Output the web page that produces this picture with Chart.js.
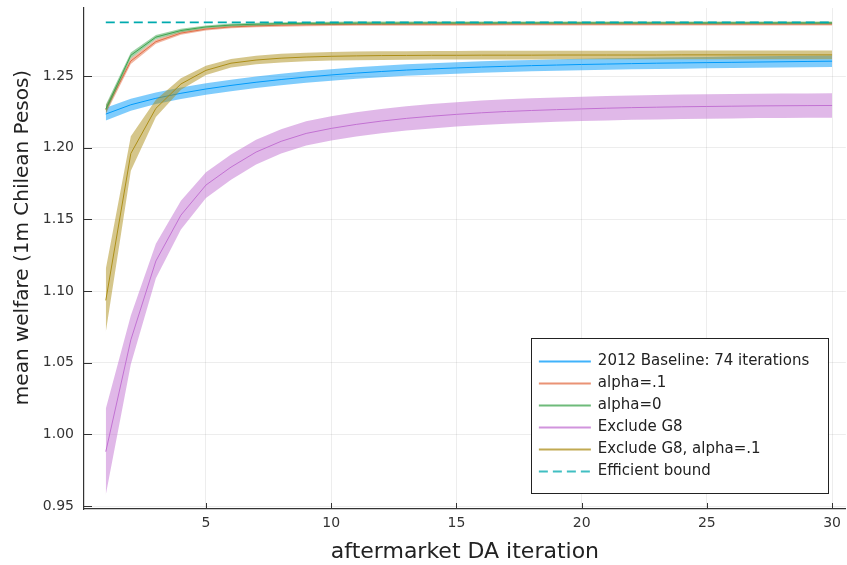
<!DOCTYPE html>
<html>
<head>
<meta charset="utf-8">
<script src="https://cdn.jsdelivr.net/npm/chart.js@4.4.0/dist/chart.umd.min.js"></script>
<style>
  html, body { margin: 0; padding: 0; background: #fff; }
  #wrap { width: 847px; height: 565px; }
</style>
</head>
<body>
<div id="wrap"><canvas id="chart" width="847" height="565"></canvas></div>
<script>
const iterations = [1,2,3,4,5,6,7,8,9,10,11,12,13,14,15,16,17,18,19,20,21,22,23,24,25,26,27,28,29,30];

const baseline = [1.2235,1.2300,1.2345,1.2380,1.2410,1.2435,1.2457,1.2476,1.2493,1.2508,1.2521,1.2532,1.2542,1.2550,1.2557,
                  1.2563,1.2568,1.2573,1.2577,1.2581,1.2584,1.2587,1.2590,1.2592,1.2594,1.2596,1.2598,1.2600,1.2602,1.2604];
const baselineErr = [0.0045,0.0042,0.0040,0.0040,0.0040,0.0040,0.0040,0.0040,0.0040,0.0040,0.0040,0.0040,0.0040,0.0040,0.0040,
                     0.0040,0.0040,0.0040,0.0040,0.0040,0.0040,0.0040,0.0040,0.0040,0.0040,0.0040,0.0040,0.0040,0.0040,0.0040];

const alpha1 = [1.2265,1.2605,1.2740,1.2800,1.2828,1.2843,1.2850,1.2855,1.2858,1.2860,1.2861,1.2861,1.2862,1.2862,1.2862,
                1.2862,1.2863,1.2863,1.2863,1.2863,1.2863,1.2863,1.2863,1.2863,1.2863,1.2863,1.2863,1.2863,1.2863,1.2863];
const alpha1Err = [0.0030,0.0020,0.0015,0.0012,0.0010,0.0010,0.0010,0.0010,0.0010,0.0010,0.0010,0.0010,0.0010,0.0010,0.0010,
                   0.0010,0.0010,0.0010,0.0010,0.0010,0.0010,0.0010,0.0010,0.0010,0.0010,0.0010,0.0010,0.0010,0.0010,0.0010];

const alpha0 = [1.2270,1.2645,1.2772,1.2818,1.2843,1.2856,1.2862,1.2866,1.2868,1.2869,1.2870,1.2870,1.2870,1.2871,1.2871,
                1.2871,1.2871,1.2871,1.2871,1.2871,1.2871,1.2871,1.2871,1.2871,1.2871,1.2871,1.2871,1.2871,1.2871,1.2871];
const alpha0Err = [0.0030,0.0020,0.0015,0.0012,0.0010,0.0010,0.0010,0.0010,0.0010,0.0010,0.0010,0.0010,0.0010,0.0010,0.0010,
                   0.0010,0.0010,0.0010,0.0010,0.0010,0.0010,0.0010,0.0010,0.0010,0.0010,0.0010,0.0010,0.0010,0.0010,0.0010];

const exclG8 = [0.9880,1.0660,1.1210,1.1530,1.1740,1.1865,1.1970,1.2045,1.2100,1.2135,1.2163,1.2186,1.2205,1.2220,1.2233,
                1.2244,1.2253,1.2260,1.2266,1.2271,1.2276,1.2280,1.2283,1.2286,1.2288,1.2290,1.2292,1.2293,1.2294,1.2295];
const exclG8Err = [0.0300,0.0170,0.0120,0.0100,0.0090,0.0088,0.0086,0.0085,0.0085,0.0085,0.0085,0.0085,0.0085,0.0085,0.0085,
                   0.0085,0.0085,0.0085,0.0085,0.0085,0.0085,0.0085,0.0085,0.0085,0.0085,0.0085,0.0085,0.0085,0.0085,0.0085];

const exclG8a1 = [1.0935,1.1960,1.2275,1.2445,1.2540,1.2590,1.2612,1.2625,1.2633,1.2638,1.2641,1.2643,1.2644,1.2645,1.2645,
                  1.2646,1.2646,1.2646,1.2647,1.2647,1.2647,1.2647,1.2647,1.2648,1.2648,1.2648,1.2648,1.2648,1.2648,1.2648];
const exclG8a1Err = [0.0220,0.0120,0.0060,0.0040,0.0032,0.0030,0.0030,0.0030,0.0030,0.0030,0.0030,0.0030,0.0030,0.0030,0.0030,
                     0.0030,0.0030,0.0030,0.0030,0.0030,0.0030,0.0030,0.0030,0.0030,0.0030,0.0030,0.0030,0.0030,0.0030,0.0030];

const boundX = [1, 30];
const boundY = [1.2875, 1.2875];

const seriesNames = ['2012 Baseline: 74 iterations', 'alpha=.1', 'alpha=0', 'Exclude G8', 'Exclude G8, alpha=.1'];
const seriesValues = [baseline, alpha1, alpha0, exclG8, exclG8a1];
const seriesErrors = [baselineErr, alpha1Err, alpha0Err, exclG8Err, exclG8a1Err];
const boundName = 'Efficient bound';
const yTitle = 'mean welfare (1m Chilean Pesos)';

const xTicks = [5, 10, 15, 20, 25, 30];
const yTicks = [0.95, 1.00, 1.05, 1.10, 1.15, 1.20, 1.25];

const colors = ['#009AFA', '#E36F47', '#3EA44E', '#C271D2', '#AC8E18'];
const bands = ['rgba(0,154,250,0.5)', 'rgba(227,111,71,0.5)', 'rgba(62,164,78,0.5)', 'rgba(194,113,210,0.5)', 'rgba(172,142,24,0.5)'];
const boundColor = '#00AAAE';
const FONT = 'DejaVu Sans';

const datasets = [];
seriesValues.forEach((vals, k) => {
  const err = seriesErrors[k];
  datasets.push({
    data: iterations.map((x, i) => ({ x: x, y: vals[i] + err[i] })),
    borderWidth: 0, pointRadius: 0, fill: false, tension: 0
  });
  datasets.push({
    data: iterations.map((x, i) => ({ x: x, y: vals[i] - err[i] })),
    borderWidth: 0, pointRadius: 0, fill: '-1', backgroundColor: bands[k], tension: 0
  });
  datasets.push({
    label: seriesNames[k],
    data: iterations.map((x, i) => ({ x: x, y: vals[i] })),
    borderColor: colors[k], borderWidth: 1, pointRadius: 0, fill: false, tension: 0,
    isMain: true
  });
});
datasets.push({
  label: boundName,
  data: boundX.map((x, i) => ({ x: x, y: boundY[i] })),
  borderColor: boundColor, borderWidth: 1.8, borderDash: [9, 5], pointRadius: 0, fill: false,
  isMain: true
});
// later series go on top, like the original
datasets.forEach((d, i) => { d.order = datasets.length - i; });

const innerTicks = {
  id: 'innerTicks',
  afterDraw(chart) {
    const ctx = chart.ctx;
    const xs = chart.scales.x, ys = chart.scales.y;
    const area = chart.chartArea;
    ctx.save();
    ctx.strokeStyle = '#333';
    ctx.lineWidth = 1;
    ctx.beginPath();
    xs.ticks.forEach((t, i) => {
      const px = Math.round(xs.getPixelForTick(i)) + 0.5;
      ctx.moveTo(px, area.bottom);
      ctx.lineTo(px, area.bottom - 6);
    });
    ys.ticks.forEach((t, i) => {
      const py = Math.round(ys.getPixelForTick(i)) + 0.5;
      ctx.moveTo(area.left, py);
      ctx.lineTo(area.left + 8, py);
    });
    ctx.stroke();

    // y title, sits a bit above the middle of the plot like the original
    ctx.translate(23, (area.top + area.bottom) / 2 - 21);
    ctx.rotate(-Math.PI / 2);
    ctx.font = '20px "' + FONT + '"';
    ctx.fillStyle = '#222';
    ctx.textAlign = 'center';
    ctx.textBaseline = 'middle';
    ctx.fillText(yTitle, 0, 0);
    ctx.restore();
  }
};

const boxLegend = {
  id: 'boxLegend',
  afterDraw(chart) {
    const ctx = chart.ctx;
    const area = chart.chartArea;
    const mains = chart.data.datasets.filter(d => d.isMain);
    const w = 297, h = 155;
    const left = area.right - 18 - w, top = area.bottom - 16 - h;
    ctx.save();
    ctx.fillStyle = '#fff';
    ctx.fillRect(left, top, w, h);
    ctx.strokeStyle = '#222';
    ctx.lineWidth = 1;
    ctx.strokeRect(Math.round(left) + 0.5, Math.round(top) + 0.5, w, h);
    ctx.font = '15px "' + FONT + '"';
    ctx.textBaseline = 'middle';
    ctx.fillStyle = '#222';
    mains.forEach((d, i) => {
      const y = top + 23.5 + i * 22;
      ctx.strokeStyle = d.borderColor;
      ctx.globalAlpha = 0.75;
      ctx.lineWidth = 1.8;
      ctx.setLineDash(d.borderDash || []);
      ctx.beginPath();
      ctx.moveTo(left + 8, y);
      ctx.lineTo(left + 60, y);
      ctx.stroke();
      ctx.setLineDash([]);
      ctx.globalAlpha = 1;
      ctx.fillText(d.label, left + 67, y);
    });
    ctx.restore();
  }
};

new Chart(document.getElementById('chart'), {
  type: 'line',
  data: { datasets: datasets },
  plugins: [innerTicks, boxLegend],
  options: {
    responsive: false,
    animation: false,
    layout: { padding: { top: 8, right: 0, left: 0, bottom: 0 } },
    plugins: {
      legend: { display: false },
      tooltip: { enabled: false },
      filler: { drawTime: 'beforeDatasetDraw' }
    },
    scales: {
      x: {
        type: 'linear',
        min: 0.13,
        max: 30.55,
        afterBuildTicks: s => { s.ticks = xTicks.map(v => ({ value: v })); },
        afterFit: s => { s.height = 56; },
        ticks: {
          autoSkip: false, maxRotation: 0, padding: 6,
          color: '#333', font: { family: FONT, size: 14 },
          callback: v => String(v)
        },
        grid: { color: 'rgba(0,0,0,0.07)', drawTicks: false },
        border: { color: '#333', width: 1.2 },
        title: {
          display: true, text: 'aftermarket DA iteration', color: '#222',
          font: { family: FONT, size: 22 }, padding: { top: 0, bottom: 0 }
        }
      },
      y: {
        min: 0.948,
        max: 1.2975,
        afterBuildTicks: s => { s.ticks = yTicks.map(v => ({ value: v })); },
        afterFit: s => { s.width = 84; s.paddingTop = 0; s.paddingBottom = 0; },
        ticks: {
          padding: 10, color: '#333', font: { family: FONT, size: 14 },
          callback: v => v.toFixed(2)
        },
        grid: { color: 'rgba(0,0,0,0.07)', drawTicks: false },
        border: { color: '#333', width: 1.2 }
      }
    }
  }
});
</script>
</body>
</html>
